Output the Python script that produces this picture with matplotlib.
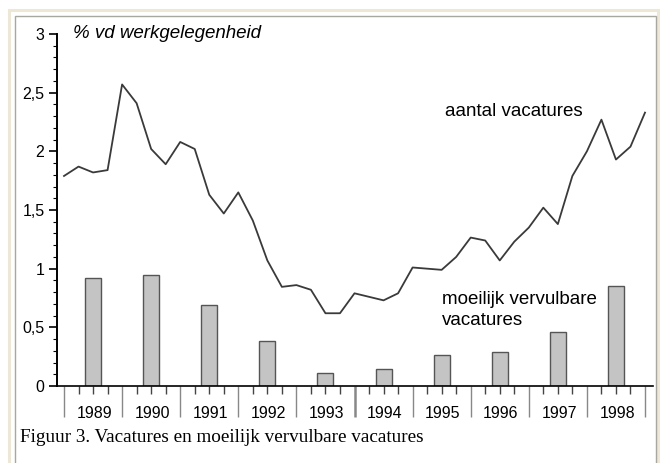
import numpy as np
import matplotlib
matplotlib.use("Agg")
import matplotlib.pyplot as plt
from matplotlib.patches import Rectangle
from matplotlib.transforms import blended_transform_factory

# ------------------------------
# Data
# ------------------------------
years = [1989, 1990, 1991, 1992, 1993, 1994, 1995, 1996, 1997, 1998]

# aantal vacatures, quarterly points from start of 1989 to end of 1998
vacatures = [
    1.79, 1.87, 1.82, 1.84,
    2.57, 2.41, 2.02, 1.89,
    2.08, 2.02, 1.63, 1.47,
    1.65, 1.41, 1.07, 0.845,
    0.86, 0.82, 0.62, 0.62,
    0.79, 0.76, 0.73, 0.79,
    1.01, 1.00, 0.99, 1.10,
    1.265, 1.24, 1.07, 1.23,
    1.35, 1.52, 1.38, 1.79,
    2.00, 2.27, 1.93, 2.04,
    2.33,
]

# moeilijk vervulbare vacatures, one bar per year
moeilijk = [0.92, 0.95, 0.69, 0.38, 0.11, 0.145, 0.26, 0.29, 0.46, 0.85]

y_labels = ["0", "0,5", "1", "1,5", "2", "2,5", "3"]

# ------------------------------
# Figure
# ------------------------------
plt.rcParams['font.family'] = ['Liberation Sans', 'DejaVu Sans']

fig = plt.figure(figsize=(6.6, 4.63), dpi=100)
W, H = 660, 463

# frame around the picture
fig.add_artist(Rectangle((9 / W, -0.1), (649 / W), 1 - 10.5 / H + 0.1,
                         transform=fig.transFigure, fill=False,
                         edgecolor='#ECE7D6', lw=2.2))
fig.add_artist(Rectangle((15 / W, -0.1), (641 / W), 1 - 15.5 / H + 0.1,
                         transform=fig.transFigure, fill=False,
                         edgecolor='#A8A8A0', lw=1.0))

ax = fig.add_axes([57 / W, (H - 386) / H, 596 / W, 352 / H])

xq = years[0] + np.arange(len(vacatures)) / 4.0
ax.plot(xq, vacatures, color='#3a3a3a', lw=1.3)

xb = np.array(years) + 0.5
ax.bar(xb, moeilijk, width=0.275, color='#c4c4c4', edgecolor='#555555', lw=1.0)

ax.set_xlim(years[0] - 7 / 58.1, years[-1] + 1 + 8 / 58.1)
ax.set_ylim(0, 3)

for s in ['top', 'right']:
    ax.spines[s].set_visible(False)
ax.spines['left'].set_linewidth(1.4)
ax.spines['bottom'].set_linewidth(1.2)

# y ticks
ax.set_yticks(np.arange(0, 3.01, 0.5))
ax.set_yticklabels(y_labels, fontsize=11.5)
ax.set_yticks(np.arange(0, 3.01, 0.1), minor=True)
ax.tick_params(axis='y', which='major', direction='out', length=6, width=1.2, pad=3)
ax.tick_params(axis='y', which='minor', direction='out', length=3, width=0.8)

# x ticks: year separators long, quarters short
bounds = years + [years[-1] + 1]
ax.set_xticks(bounds)
ax.set_xticklabels([])
ax.set_xticks([y + q / 4 for y in years for q in (1, 2, 3)], minor=True)
ax.tick_params(axis='x', which='major', direction='out', length=22, width=1.0,
               color='#888888')
ax.tick_params(axis='x', which='minor', direction='out', length=6, width=1.0,
               color='#444444')
sep = ax.xaxis.get_major_ticks()[bounds.index(1994)]
sep.tick1line.set_color('black')
sep.tick1line.set_markeredgewidth(1.8)

trans = blended_transform_factory(ax.transData, ax.transAxes)
for y in years:
    ax.text(y + 0.52, -28 / 352, str(y), transform=trans, ha='center',
            va='center', fontsize=11.5)

# annotations
fig.text(73 / W, 1 - 33 / H, "% vd werkgelegenheid", fontsize=13.5,
         style='italic', va='center', ha='left')
fig.text(445 / W, 1 - 112 / H, "aantal vacatures", fontsize=13.5,
         va='center', ha='left')
fig.text(442 / W, 1 - 310 / H, "moeilijk vervulbare\nvacatures", fontsize=13.5,
         va='center', ha='left', linespacing=1.25)

fig.text(20 / W, 1 - 442 / H, "Figuur 3. Vacatures en moeilijk vervulbare vacatures",
         family='Liberation Serif', fontsize=13.8, va='baseline', ha='left')

fig.savefig("out.png", dpi=100)
